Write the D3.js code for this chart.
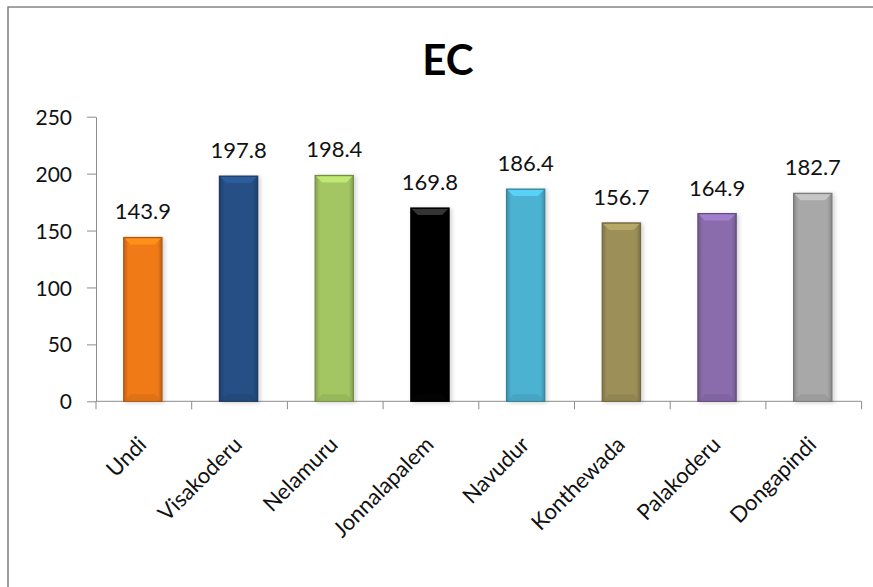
<!DOCTYPE html>
<html>
<head>
<meta charset="utf-8">
<script src="https://cdn.jsdelivr.net/npm/d3@7"></script>
<style>
  html, body { margin: 0; padding: 0; background: #ffffff; }
  svg { display: block; }
</style>
</head>
<body>
<svg id="chart" width="873" height="587"></svg>
<script>
// EC by village
const categories = ["Undi", "Visakoderu", "Nelamuru", "Jonnalapalem", "Navudur", "Konthewada", "Palakoderu", "Dongapindi"];
const values = [143.9, 197.8, 198.4, 169.8, 186.4, 156.7, 164.9, 182.7];
const barColors = ["#F07A17", "#254F85", "#A3C562", "#060606", "#4BB2D1", "#9C8F58", "#8A6CAD", "#A8A8A8"];
const yTicks = [0, 50, 100, 150, 200, 250];
const title = "EC";

const svg = d3.select("#chart");
const W = 873, H = 587;

// Plot area
const x0 = 96, x1 = 861.6, yTop = 116.7, yBase = 401.3;

const x = d3.scaleBand().domain(categories).range([x0, x1]).paddingInner(0).paddingOuter(0);
const y = d3.scaleLinear().domain([0, 250]).range([yBase, yTop]);

// Outer frame (top and left edges)
svg.append("path")
  .attr("d", `M8,${H} L8,7 L${W},7`)
  .attr("fill", "none")
  .attr("stroke", "#858585")
  .attr("stroke-width", 1.6);

// Title
svg.append("text")
  .attr("x", 448).attr("y", 75)
  .attr("text-anchor", "middle")
  .attr("font-family", "Lato, 'Open Sans', sans-serif")
  .attr("font-weight", 700)
  .attr("font-size", 42)
  .attr("fill", "#000")
  .text(title);

// Gradients for bevelled bars
const defs = svg.append("defs");
const shadow = defs.append("filter").attr("id", "shadow").attr("x", "-30%").attr("y", "-10%").attr("width", "160%").attr("height", "130%");
shadow.append("feDropShadow").attr("dx", 2).attr("dy", 1).attr("stdDeviation", 2).attr("flood-color", "#000").attr("flood-opacity", 0.18);

barColors.forEach((c, i) => {
  const base = d3.color(c);
  const g = defs.append("linearGradient").attr("id", "side" + i).attr("x1", "0").attr("x2", "1").attr("y1", "0").attr("y2", "0");
  const dark = base.darker(0.6);
  g.append("stop").attr("offset", "0%").attr("stop-color", dark);
  g.append("stop").attr("offset", "12%").attr("stop-color", base);
  g.append("stop").attr("offset", "88%").attr("stop-color", base);
  g.append("stop").attr("offset", "100%").attr("stop-color", dark);
});

// Y axis
const yAxis = d3.axisLeft(y).tickValues(yTicks).tickSize(9).tickPadding(15).tickSizeOuter(0);
const gy = svg.append("g").attr("transform", `translate(${x0},0)`).call(yAxis);
gy.select(".domain").attr("stroke", "#8c8c8c");
gy.selectAll(".tick line").attr("stroke", "#8c8c8c");
gy.selectAll(".tick text")
  .attr("font-family", "Lato, 'Open Sans', sans-serif")
  .attr("font-size", 21)
  .attr("fill", "#111")
  .attr("dy", "0.36em");

// X axis with ticks at category boundaries
const boundaries = d3.range(categories.length + 1).map(i => x0 + i * x.step());
const gx = svg.append("g");
gx.append("line").attr("x1", x0).attr("x2", x1).attr("y1", yBase).attr("y2", yBase).attr("stroke", "#8c8c8c");
gx.selectAll("line.tk").data(boundaries).enter().append("line")
  .attr("class", "tk")
  .attr("x1", d => d).attr("x2", d => d)
  .attr("y1", yBase).attr("y2", yBase + 8)
  .attr("stroke", "#8c8c8c");

// Bars
const bw = x.bandwidth() * 0.4;
const bars = svg.append("g").selectAll("g.bar").data(values).enter().append("g").attr("class", "bar");

bars.each(function (v, i) {
  const g = d3.select(this);
  const cx = x(categories[i]) + x.bandwidth() / 2 - 1;
  const bx = cx - bw / 2;
  const by = y(v);
  const bh = yBase - by;
  const base = d3.color(barColors[i]);
  const bev = 7;

  g.append("rect")
    .attr("x", bx).attr("y", by).attr("width", bw).attr("height", bh)
    .attr("fill", `url(#side${i})`)
    .attr("stroke", base.darker(0.9))
    .attr("stroke-width", 1.2)
    .attr("filter", "url(#shadow)");

  // top bevel
  g.append("path")
    .attr("d", `M${bx + 1},${by + 1} L${bx + bw - 1},${by + 1} L${bx + bw - bev},${by + bev} L${bx + bev},${by + bev} Z`)
    .attr("fill", i === 3 ? "#3a3a3a" : base.brighter(0.5))
    .attr("opacity", 0.9);

  // bottom bevel
  g.append("path")
    .attr("d", `M${bx + 1},${by + bh - 1} L${bx + bw - 1},${by + bh - 1} L${bx + bw - bev},${by + bh - bev} L${bx + bev},${by + bh - bev} Z`)
    .attr("fill", base.darker(0.35))
    .attr("opacity", 0.6);

  // value label
  g.append("text")
    .attr("x", cx).attr("y", by - 18)
    .attr("text-anchor", "middle")
    .attr("font-family", "Lato, 'Open Sans', sans-serif")
    .attr("font-size", 22)
    .attr("fill", "#111")
    .text(d3.format(".1f")(v));
});

// Category labels, rotated
svg.append("g").selectAll("text").data(categories).enter().append("text")
  .attr("transform", d => `translate(${x(d) + x.bandwidth() / 2 + 4},446) rotate(-45)`)
  .attr("text-anchor", "end")
  .attr("font-family", "Lato, 'Open Sans', sans-serif")
  .attr("font-size", 22)
  .attr("fill", "#111")
  .text(d => d);
</script>
</body>
</html>
